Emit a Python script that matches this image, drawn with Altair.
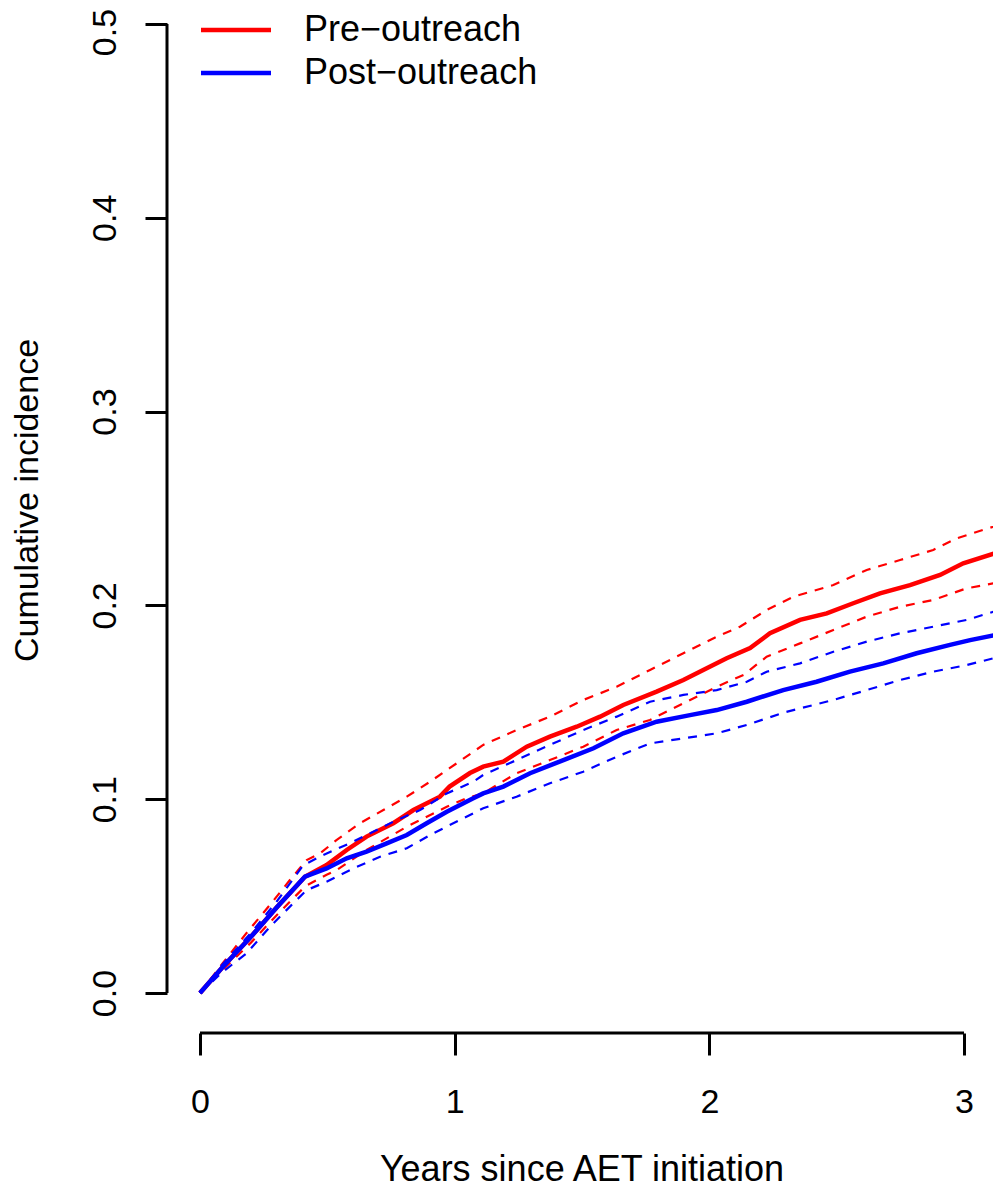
import altair as alt
import pandas as pd

# ---------------- data ----------------
GROUPS = ["Pre\u2212outreach", "Post\u2212outreach"]
COLORS = ["#FF0000", "#0000FF"]

PRE_X = [0, 0.09, 0.2, 0.3, 0.412, 0.497, 0.576, 0.654, 0.759, 0.838, 0.942, 0.98, 1.06, 1.112,
         1.191, 1.283, 1.374, 1.479, 1.571, 1.662, 1.793, 1.898, 1.976, 2.068, 2.16, 2.238, 2.356,
         2.461, 2.565, 2.67, 2.788, 2.906, 2.997, 3.122]
PRE_EST = [0, 0.0135, 0.029, 0.044, 0.060, 0.066, 0.0738, 0.0807, 0.0876, 0.0944, 0.1013, 0.1065,
           0.1135, 0.1168, 0.1194, 0.1271, 0.1323, 0.1374, 0.1426, 0.1486, 0.1555, 0.1615, 0.1667,
           0.1727, 0.178, 0.1856, 0.1925, 0.1959, 0.2011, 0.2062, 0.2105, 0.2157, 0.2217, 0.2269]

PRE_HI_X = [0, 0.09, 0.183, 0.275, 0.353, 0.419, 0.471, 0.537, 0.628, 0.72, 0.812, 0.903, 0.98,
            1.112, 1.243, 1.374, 1.505, 1.636, 1.767, 1.898, 2.029, 2.12, 2.225, 2.33, 2.487, 2.618,
            2.749, 2.879, 2.971, 3.115, 3.145]
PRE_HI = [0, 0.0155, 0.031, 0.0455, 0.0583, 0.0686, 0.072, 0.079, 0.0876, 0.0944, 0.1013, 0.109,
          0.116, 0.128, 0.1357, 0.1426, 0.1512, 0.158, 0.1667, 0.1753, 0.1839, 0.189, 0.1976,
          0.2045, 0.2105, 0.2183, 0.2234, 0.2286, 0.2346, 0.2406, 0.2425]

PRE_LO_X = [0, 0.09, 0.2, 0.3, 0.412, 0.497, 0.537, 0.654, 0.812, 0.969, 1.047, 1.112, 1.243,
            1.374, 1.505, 1.636, 1.767, 1.898, 2.029, 2.134, 2.225, 2.356, 2.487, 2.618, 2.749,
            2.879, 3.01, 3.115]
PRE_LO = [0, 0.012, 0.026, 0.040, 0.055, 0.061, 0.0635, 0.0738, 0.0858, 0.0961, 0.1005, 0.103,
          0.1134, 0.1202, 0.1271, 0.1357, 0.1409, 0.1495, 0.158, 0.1641, 0.1735, 0.1804, 0.1873,
          0.1942, 0.1993, 0.2028, 0.2088, 0.2114]

POST_X = [0, 0.09, 0.2, 0.3, 0.412, 0.497, 0.576, 0.654, 0.733, 0.812, 0.89, 0.969, 1.073, 1.112,
          1.191, 1.296, 1.427, 1.545, 1.662, 1.793, 1.924, 2.029, 2.147, 2.29, 2.421, 2.552, 2.683,
          2.814, 2.945, 3.024, 3.122]
POST_EST = [0, 0.0135, 0.029, 0.044, 0.060, 0.0643, 0.0695, 0.0729, 0.0772, 0.0815, 0.0876,
            0.0935, 0.1005, 0.103, 0.1065, 0.1134, 0.1202, 0.1263, 0.134, 0.14, 0.1434, 0.146,
            0.1503, 0.1563, 0.1606, 0.1658, 0.1701, 0.1753, 0.1796, 0.1821, 0.1847]

POST_HI_X = [0, 0.09, 0.2, 0.3, 0.406, 0.484, 0.602, 0.759, 0.864, 0.969, 1.073, 1.112, 1.243,
             1.374, 1.505, 1.636, 1.767, 1.898, 2.029, 2.147, 2.225, 2.356, 2.487, 2.618, 2.749,
             2.879, 3.01, 3.115]
POST_HI = [0, 0.015, 0.031, 0.047, 0.066, 0.0712, 0.0781, 0.0884, 0.0944, 0.103, 0.109, 0.1125,
           0.1202, 0.128, 0.1357, 0.1426, 0.1503, 0.1538, 0.1563, 0.1606, 0.1658, 0.1701, 0.1761,
           0.1813, 0.1856, 0.189, 0.1925, 0.1967]

POST_LO_X = [0, 0.09, 0.183, 0.275, 0.366, 0.419, 0.497, 0.602, 0.707, 0.812, 0.916, 1.021, 1.112,
             1.243, 1.374, 1.505, 1.636, 1.767, 1.898, 2.029, 2.147, 2.3, 2.487, 2.618, 2.749,
             2.879, 3.01, 3.115]
POST_LO = [0, 0.011, 0.0205, 0.0342, 0.0463, 0.0531, 0.0574, 0.0643, 0.0703, 0.0747, 0.0824,
           0.0893, 0.0953, 0.1013, 0.1082, 0.1142, 0.1219, 0.1288, 0.1314, 0.134, 0.1383, 0.145,
           0.1512, 0.1563, 0.1615, 0.1658, 0.1692, 0.1727]

X_TICKS = [0, 1, 2, 3]
Y_TICKS = [0, 0.1, 0.2, 0.3, 0.4, 0.5]

X_MIN, X_MAX = -0.1296, 3.1138
Y_MIN, Y_MAX = -0.02064, 0.50826

FONT = "Liberation Sans"
FS = 34


def frame(xs, ys, group, bound):
    return pd.DataFrame({"t": xs, "v": ys, "group": group, "bound": bound})


pre_solid = frame(PRE_X, PRE_EST, GROUPS[0], "est")
post_solid = frame(POST_X, POST_EST, GROUPS[1], "est")
pre_dash = pd.concat([frame(PRE_HI_X, PRE_HI, GROUPS[0], "hi"),
                      frame(PRE_LO_X, PRE_LO, GROUPS[0], "lo")])
post_dash = pd.concat([frame(POST_HI_X, POST_HI, GROUPS[1], "hi"),
                       frame(POST_LO_X, POST_LO, GROUPS[1], "lo")])

xscale = alt.Scale(domain=[X_MIN, X_MAX], nice=False, zero=False)
yscale = alt.Scale(domain=[Y_MIN, Y_MAX], nice=False, zero=False)

x_axis = alt.Axis(values=X_TICKS, format="d", domain=False, grid=False,
                  tickSize=22, tickWidth=3, tickColor="black",
                  labelFont=FONT, labelFontSize=FS, labelColor="black",
                  labelPadding=30, labelFlush=False, labelBaseline="top",
                  title="Years since AET initiation", titleFont=FONT, titleFontSize=36,
                  titleFontWeight="normal", titleColor="black",
                  titleBaseline="alphabetic", titleAlign="center",
                  titleX=414.5, titleY=147)
y_axis = alt.Axis(values=Y_TICKS, format=".1f", domain=False, grid=False,
                  tickSize=22, tickWidth=3, tickColor="black",
                  labelFont=FONT, labelFontSize=FS, labelColor="black",
                  labelAngle=-90, labelAlign="center", labelBaseline="alphabetic",
                  labelPadding=30, labelFlush=False, labelOverlap=False,
                  labelOffset={"condition": {"test": "datum.value >= 0.45", "value": 8}, "value": 0},
                  title="Cumulative incidence", titleFont=FONT, titleFontSize=FS,
                  titleFontWeight="normal", titleColor="black", titleAngle=-90,
                  titleAlign="center", titleBaseline="alphabetic",
                  titleX=-130, titleY=492)

legend = alt.Legend(title=None, orient="none", legendX=51, legendY=4, padding=0,
                    symbolType="M-2.5,0H2.5", symbolSize=784, symbolStrokeWidth=4.5,
                    labelFont=FONT, labelFontSize=36, labelColor="black", labelLimit=0,
                    labelOffset=50, rowPadding=7)
color = alt.Color("group:N", scale=alt.Scale(domain=GROUPS, range=COLORS), legend=legend)

X = alt.X("t:Q", scale=xscale, axis=x_axis)
Y = alt.Y("v:Q", scale=yscale, axis=y_axis)


def dashed(df, col):
    return alt.Chart(df).mark_line(strokeWidth=2.2, strokeDash=[9, 8], clip=True).encode(
        x=alt.X("t:Q", scale=xscale), y=alt.Y("v:Q", scale=yscale),
        detail="bound:N", color=alt.value(col))


def solid(df):
    return alt.Chart(df).mark_line(strokeWidth=4.5, clip=True).encode(x=X, y=Y, color=color)


yaxis_line = alt.Chart(pd.DataFrame({"x": [X_MIN], "y": [0.0], "y2": [0.5]})).mark_rule(
    color="black", strokeWidth=3).encode(x=alt.X("x:Q", scale=xscale),
                                         y=alt.Y("y:Q", scale=yscale), y2="y2:Q")
xaxis_line = alt.Chart(pd.DataFrame({"x": [0.0], "x2": [3.0], "y": [Y_MIN]})).mark_rule(
    color="black", strokeWidth=3).encode(x=alt.X("x:Q", scale=xscale), x2="x2:Q",
                                         y=alt.Y("y:Q", scale=yscale))

chart = alt.layer(
    solid(pre_solid), dashed(pre_dash, COLORS[0]),
    solid(post_solid), dashed(post_dash, COLORS[1]),
    yaxis_line, xaxis_line,
).properties(
    width=826, height=1025,
    background="white",
    autosize=alt.AutoSizeParams(type="none"),
    padding={"left": 159, "top": 0, "right": 0, "bottom": 159},
).configure_view(stroke=None)

chart.save("out.html", embed_options={"renderer": "svg", "actions": False})
